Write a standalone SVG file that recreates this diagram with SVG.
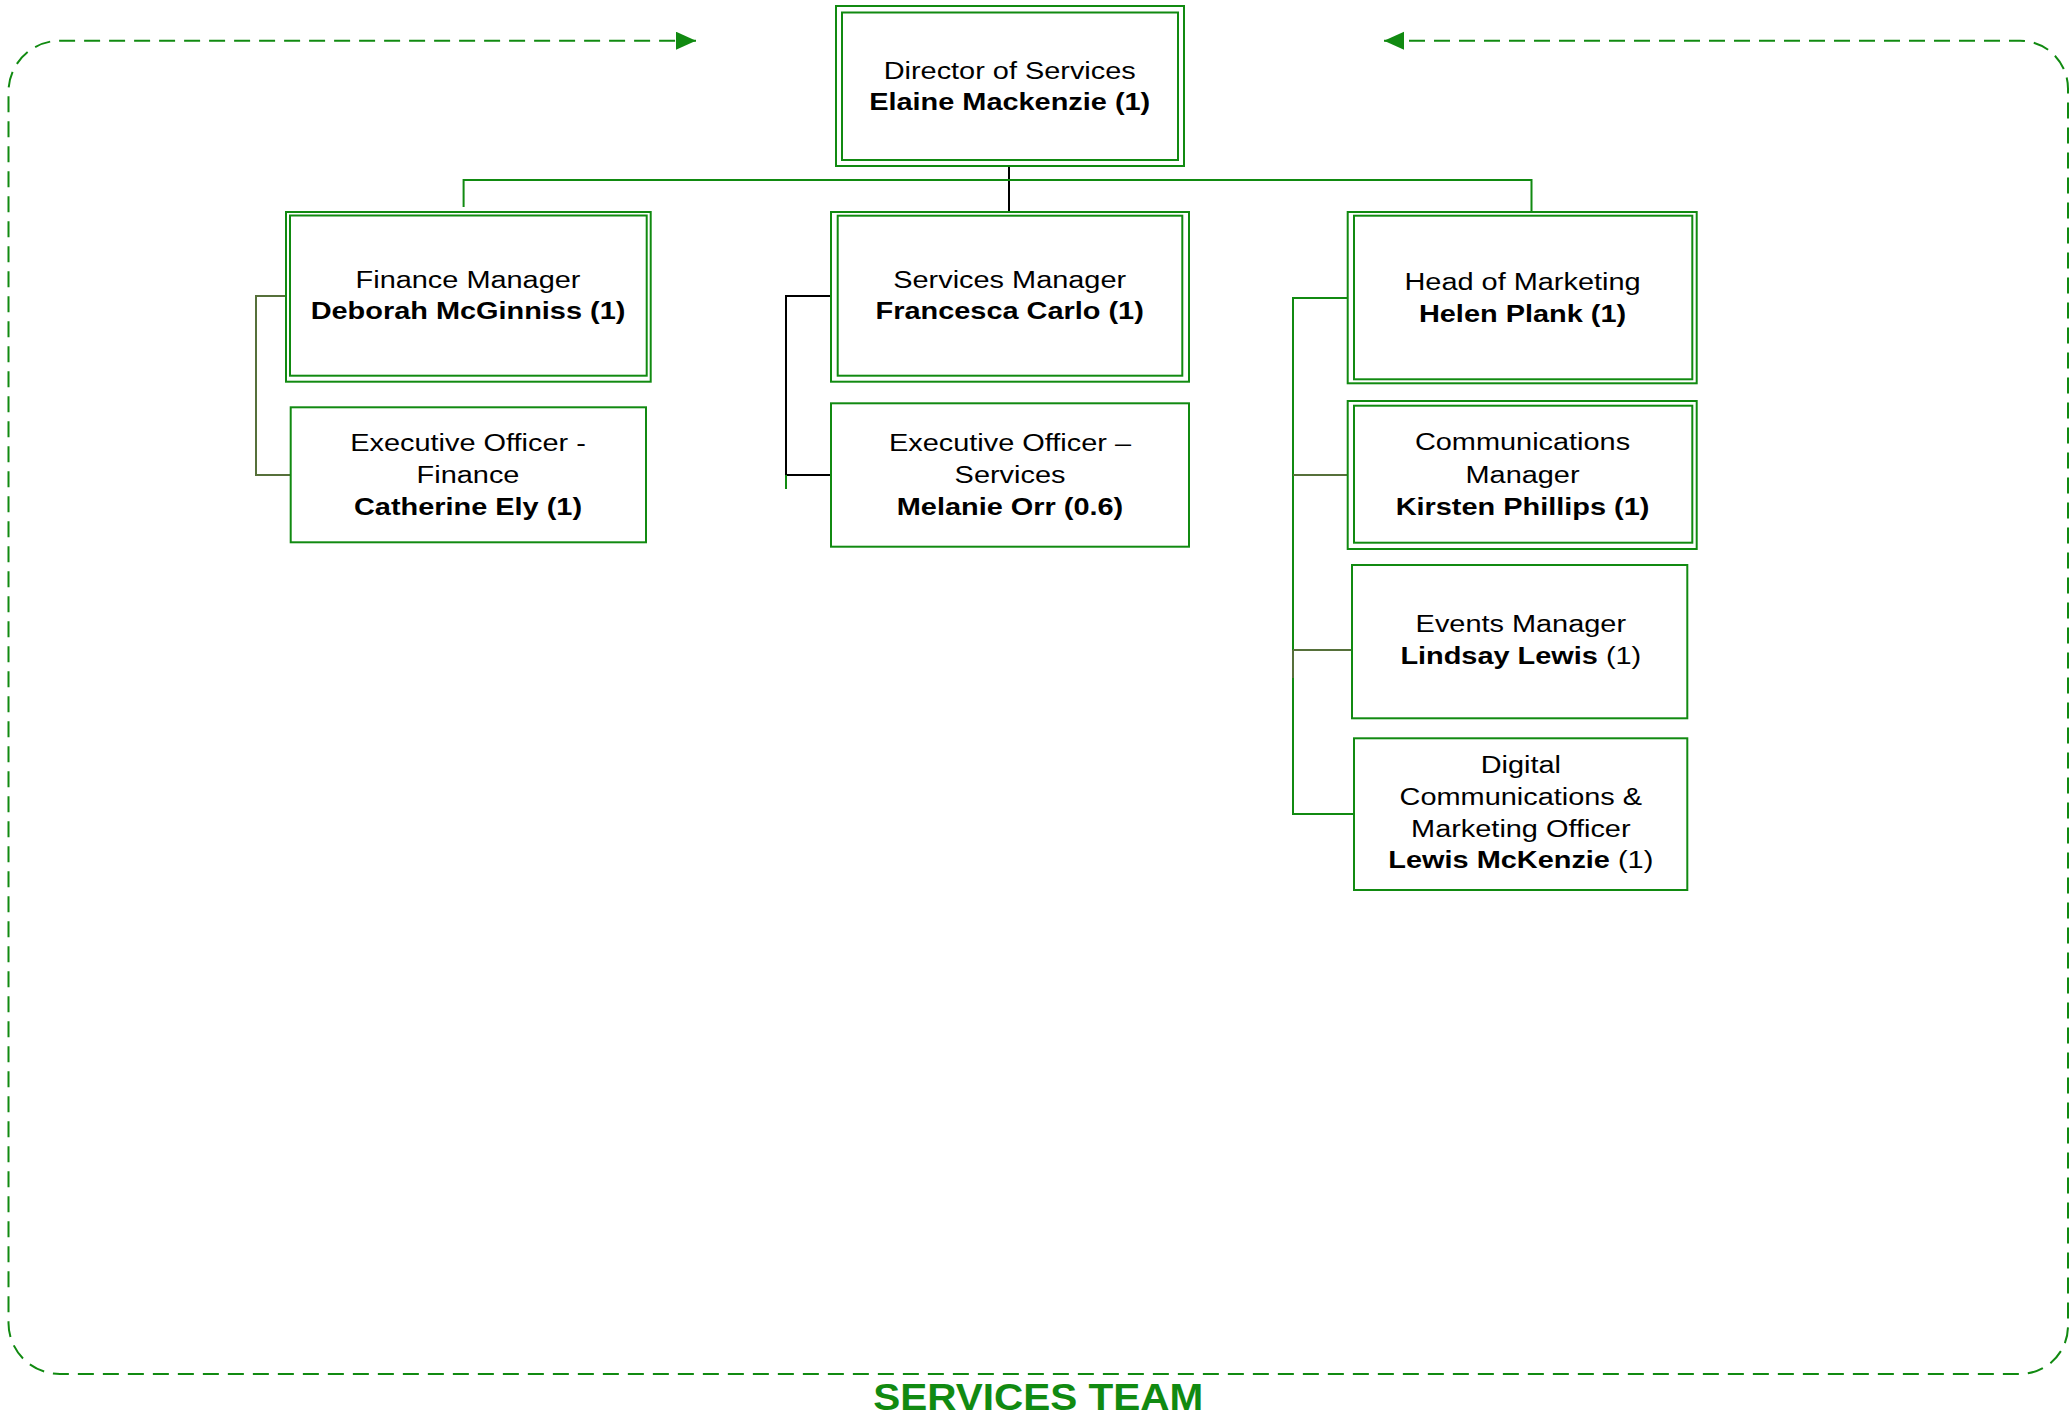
<svg xmlns="http://www.w3.org/2000/svg" width="2071" height="1415" viewBox="0 0 2071 1415">
<style>
.box{fill:#fff;stroke:#118a11;stroke-width:2}
.inner{fill:none;stroke:#118a11;stroke-width:2}
.t{font-family:"Liberation Sans",Arial,sans-serif;font-size:24.5px;fill:#000;text-anchor:middle}
.b{font-weight:bold}
.cg{fill:none;stroke:#118a11;stroke-width:2}
.ck{fill:none;stroke:#000;stroke-width:2}
.co{fill:none;stroke:#56703a;stroke-width:2}
.frame{fill:none;stroke:#118a11;stroke-width:2;stroke-dasharray:16 9}
.title{font-family:"Liberation Sans",Arial,sans-serif;font-size:37px;font-weight:bold;fill:#118a11;text-anchor:middle}
</style>
<defs>
<marker id="arr" markerUnits="userSpaceOnUse" markerWidth="22" markerHeight="20" refX="20" refY="9" orient="auto-start-reverse" viewBox="0 0 22 20">
<path d="M0,0 L20,9 L0,18 Z" fill="#118a11"/>
</marker>
</defs>
<g id="frame">
<path class="frame" d="M1384,40.7 L2020,40.7 A48,48 0 0 1 2068,88.7 L2068,1326 A48,48 0 0 1 2020,1374 L60,1374 A51.5,51 0 0 1 8.5,1323 L8.5,92 A51.5,51 0 0 1 60,40.7 L696,40.7" marker-start="url(#arr)" marker-end="url(#arr)"/>
</g>
<g id="connectors">
<line class="ck" x1="1009" y1="166" x2="1009" y2="212"/>
<path class="cg" d="M463.6,207 V180 H1531.5 V212"/>
<path class="co" d="M286,296 H256 V475 H290.7"/>
<path class="ck" d="M831,296 H786 V475 H831"/>
<line class="cg" x1="786" y1="475" x2="786" y2="489"/>
<path class="cg" d="M1347.7,298 H1293 V814 H1354"/>
<line class="co" x1="1293" y1="475" x2="1347.7" y2="475"/>
<line class="co" x1="1293" y1="650" x2="1352" y2="650"/>
<line class="co" x1="1293" y1="650" x2="1293" y2="678"/>
</g>
<g id="director">
<rect class="box" x="836" y="6" width="348" height="160"/>
<rect class="inner" x="842" y="12.5" width="336" height="147.5"/>
<text class="t" transform="translate(1009.7,0) scale(1.18,1)"><tspan x="0" y="79">Director of Services</tspan><tspan x="0" y="110" class="b">Elaine Mackenzie (1)</tspan></text>
</g>
<g id="finance-manager">
<rect class="box" x="286" y="212" width="364.7" height="169.7"/>
<rect class="inner" x="290" y="215.5" width="356.7" height="160.2"/>
<text class="t" transform="translate(468,0) scale(1.18,1)"><tspan x="0" y="288.3">Finance Manager</tspan><tspan x="0" y="319.3" class="b">Deborah McGinniss (1)</tspan></text>
</g>
<g id="exec-finance">
<rect class="box" x="290.7" y="407.3" width="355.3" height="135"/>
<text class="t" transform="translate(468,0) scale(1.18,1)"><tspan x="0" y="450.7">Executive Officer -</tspan><tspan x="0" y="482.7">Finance</tspan><tspan x="0" y="515" class="b">Catherine Ely (1)</tspan></text>
</g>
<g id="services-manager">
<rect class="box" x="831" y="212" width="358" height="169.7"/>
<rect class="inner" x="837.7" y="215.7" width="344.6" height="160"/>
<text class="t" transform="translate(1009.7,0) scale(1.18,1)"><tspan x="0" y="288.3">Services Manager</tspan><tspan x="0" y="319.3" class="b">Francesca Carlo (1)</tspan></text>
</g>
<g id="exec-services">
<rect class="box" x="831" y="403.3" width="358" height="143.4"/>
<text class="t" transform="translate(1010,0) scale(1.18,1)"><tspan x="0" y="450.7">Executive Officer –</tspan><tspan x="0" y="482.7">Services</tspan><tspan x="0" y="515" class="b">Melanie Orr (0.6)</tspan></text>
</g>
<g id="head-marketing">
<rect class="box" x="1347.7" y="212" width="349" height="171.3"/>
<rect class="inner" x="1354" y="215.7" width="338.3" height="163.6"/>
<text class="t" transform="translate(1522.5,0) scale(1.18,1)"><tspan x="0" y="290">Head of Marketing</tspan><tspan x="0" y="321.7" class="b">Helen Plank (1)</tspan></text>
</g>
<g id="comms-manager">
<rect class="box" x="1347.7" y="401" width="349" height="148"/>
<rect class="inner" x="1354" y="405.7" width="338.3" height="137"/>
<text class="t" transform="translate(1522.5,0) scale(1.18,1)"><tspan x="0" y="450">Communications</tspan><tspan x="0" y="482.7">Manager</tspan><tspan x="0" y="515" class="b">Kirsten Phillips (1)</tspan></text>
</g>
<g id="events-manager">
<rect class="box" x="1352" y="565" width="335.3" height="153.3"/>
<text class="t" transform="translate(1520.8,0) scale(1.18,1)"><tspan x="0" y="632.3">Events Manager</tspan><tspan x="0" y="664.3"><tspan class="b">Lindsay Lewis</tspan> (1)</tspan></text>
</g>
<g id="digital-officer">
<rect class="box" x="1354" y="738.3" width="333.3" height="151.7"/>
<text class="t" transform="translate(1520.8,0) scale(1.18,1)"><tspan x="0" y="772.7">Digital</tspan><tspan x="0" y="805">Communications &amp;</tspan><tspan x="0" y="836.7">Marketing Officer</tspan><tspan x="0" y="868.3"><tspan class="b">Lewis McKenzie</tspan> (1)</tspan></text>
</g>
<g id="team-label">
<text class="title" x="1038.3" y="1410" textLength="330" lengthAdjust="spacingAndGlyphs">SERVICES TEAM</text>
</g>
</svg>
